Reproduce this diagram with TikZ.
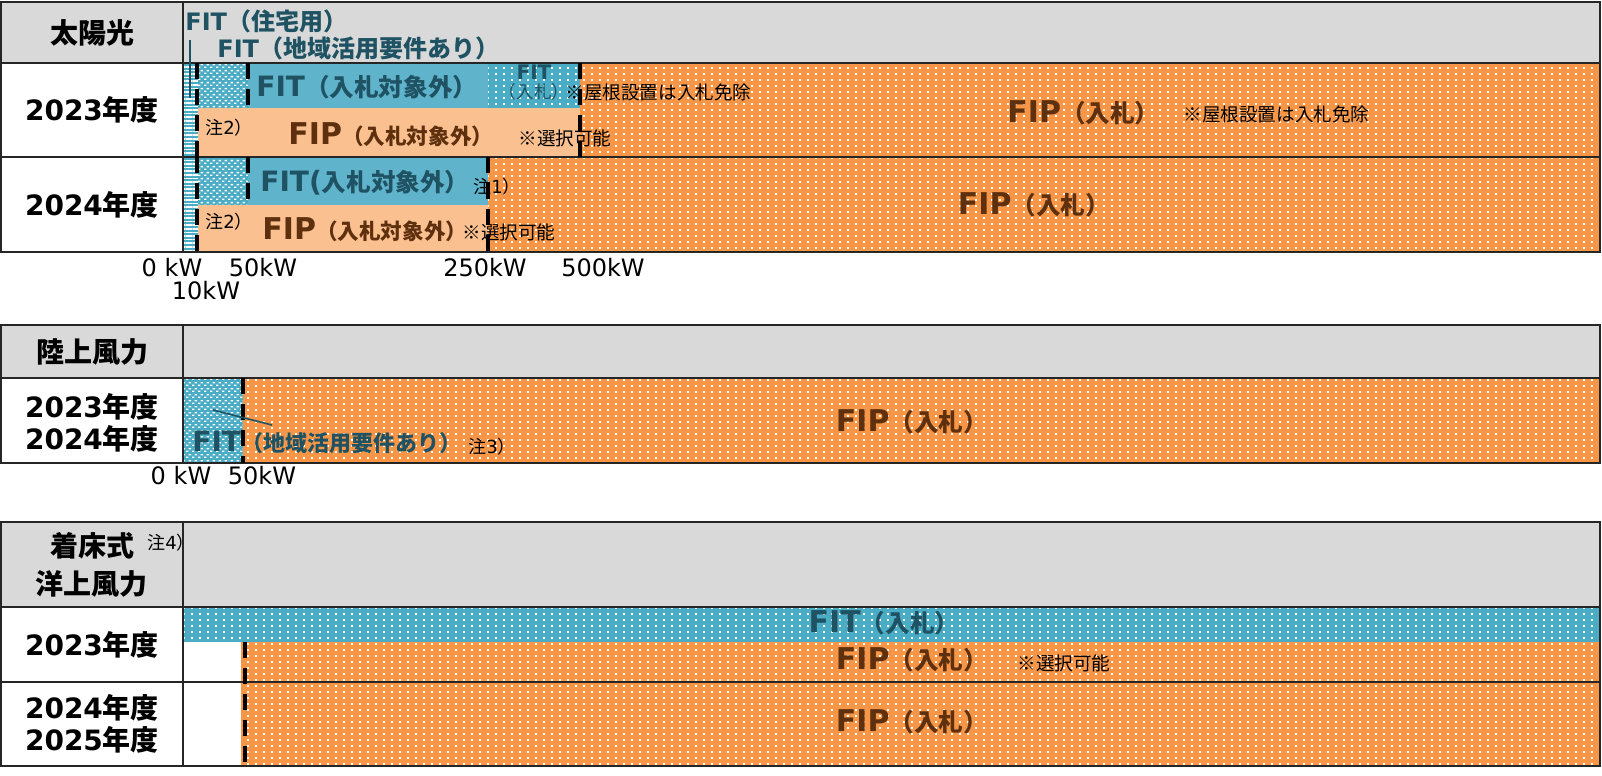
\documentclass[tikz,border=0pt]{standalone}
\usepackage{fontspec}
\setmainfont{DejaVu Sans}
\newfontfamily\jp{Noto Sans CJK JP}
\usetikzlibrary{patterns,patterns.meta}
\definecolor{hdr}{HTML}{D9D9D9}
\definecolor{bsolid}{HTML}{5FB3CB}
\definecolor{bdot}{HTML}{4BACC6}
\definecolor{orgC}{HTML}{F79646}
\definecolor{lorg}{HTML}{FAC090}
\definecolor{fitc}{HTML}{1F5263}
\definecolor{brn}{HTML}{5F300E}
\pgfdeclarepatternformonly{sqdots}{\pgfqpoint{-0.6pt}{-0.6pt}}{\pgfqpoint{0.6pt}{0.6pt}}{\pgfqpoint{4pt}{3pt}}%
{\pgfpathrectangle{\pgfqpoint{-0.5pt}{-0.5pt}}{\pgfqpoint{1pt}{1pt}}\pgfusepath{fill}}
\pgfdeclarepatternformonly{chkdots}{\pgfqpoint{0pt}{0pt}}{\pgfqpoint{3pt}{3pt}}{\pgfqpoint{3pt}{3pt}}%
{\pgfpathrectangle{\pgfqpoint{0pt}{0pt}}{\pgfqpoint{1.4pt}{0.8pt}}\pgfpathrectangle{\pgfqpoint{1.5pt}{1.5pt}}{\pgfqpoint{1.4pt}{0.8pt}}\pgfusepath{fill}}
\begin{document}
\begin{tikzpicture}[x=0.5pt,y=-0.5pt,
  grid/.style={line width=1.2pt,draw=black!85},
  dl/.style={line width=2pt,dash pattern=on 8pt off 5pt},
  dorg/.style={fill=orgC,postaction={pattern=sqdots,pattern color=white}},
  dblue/.style={fill=bdot,postaction={pattern=sqdots,pattern color=white}},
  lblue/.style={fill=bdot,postaction={pattern=chkdots,pattern color=white}},
  sblue/.style={fill=bdot,postaction={pattern={Lines[angle=0,distance=1.8pt,line width=0.8pt]},pattern color=white}},
  yl/.style={font=\bfseries\fontsize{14}{16}\selectfont,align=center,inner sep=0pt},
  fitl/.style={text=fitc,font=\bfseries\fontsize{14}{16}\selectfont,inner sep=0pt},
  fipl/.style={text=brn,font=\bfseries\fontsize{15}{16}\selectfont,inner sep=0pt},
  sm/.style={font=\fontsize{9.3}{11}\selectfont,inner sep=0pt},
  nt/.style={font=\fontsize{9}{10}\selectfont,inner sep=0pt},
  kw/.style={font=\fontsize{12}{14}\selectfont,inner sep=0pt},
  lead/.style={line width=0.6pt,draw=fitc}
]
\newcommand\pj[1]{{\jp\fontsize{12.3}{14}\selectfont #1}}
\useasboundingbox (0,0) rectangle (1602,776);

% ---------------- Table 1 : 太陽光 ----------------
\fill[hdr] (1,2) rectangle (1600,63);
\path[sblue] (183,63) rectangle (198,252);
\path[lblue] (198,63) rectangle (248,108);
\fill[bsolid] (248,63) rectangle (488,108);
\path[dblue] (488,63) rectangle (580,108);
\fill[lorg] (198,108) rectangle (580,157);
\path[dorg] (580,63) rectangle (1600,157);
\path[lblue] (198,157) rectangle (248,205);
\fill[bsolid] (248,157) rectangle (488,205);
\fill[lorg] (198,205) rectangle (488,252);
\path[dorg] (488,157) rectangle (1600,252);
\draw[grid] (1,2) rectangle (1600,252);
\draw[grid] (1,63) -- (1600,63) (1,157) -- (1600,157) (183,2) -- (183,252);
\draw[dl] (197,63) -- (197,157);
\draw[dl] (248,63) -- (248,108);
\draw[dl] (580,63) -- (580,157);
\draw[dl] (197,157) -- (197,252);
\draw[dl] (248,157) -- (248,205);
\draw[dl] (488,157) -- (488,252);

\node[yl] (t1h) at (92,33) {{\jp 太陽光}};
\node[yl] (t1a) at (92,110) {2023{\jp 年度}};
\node[yl] (t1b) at (92,205) {2024{\jp 年度}};

\node[fitl,anchor=west,font=\bfseries\fontsize{12}{13}\selectfont] (fitj) at (185,21) {FIT{\jp （住宅用）}};
\node[fitl,anchor=west,font=\bfseries\fontsize{12}{13}\selectfont] (fitc1) at (217,48) {FIT{\jp （地域活用要件あり）}};
\coordinate (jtop) at (190,40);
\coordinate (jbot) at (190,98);
\draw[lead] (jtop) -- (jbot);

\node[fitl,anchor=west] (fit1) at (256,87) {FIT\pj{（入札対象外）}};
\node[fitl,align=center,font=\fontsize{10}{9.5}\selectfont] (fitb1) at (534,83) {\textbf{FIT}\\{\jp\fontsize{8.8}{9}\selectfont （入札）}};
\node[sm,anchor=west] (roof1) at (565,92) {{\jp ※屋根設置は入札免除}};
\node[nt,anchor=west] (n2a) at (205,128) {{\jp 注}2{\jp ）}};
\node[fipl,anchor=west] (fip1) at (288,135) {FIP{\jp\fontsize{10.8}{12}\selectfont （入札対象外）}};
\node[sm,anchor=west] (sel1) at (518,138) {{\jp ※選択可能}};
\node[fipl,anchor=west] (fipb1) at (1007,113) {FIP\pj{（入札）}};
\node[sm,anchor=west] (roof2) at (1183,114) {{\jp ※屋根設置は入札免除}};

\node[fitl,anchor=west] (fit2) at (260,183) {FIT(\pj{入札対象外）}};
\node[nt,anchor=west] (n1) at (473,187) {{\jp 注}1{\jp ）}};
\node[nt,anchor=west] (n2b) at (205,222) {{\jp 注}2{\jp ）}};
\node[fipl,anchor=west] (fip2) at (262,230) {FIP{\jp\fontsize{10.8}{12}\selectfont （入札対象外）}};
\node[sm,anchor=west] (sel2) at (462,232) {{\jp ※選択可能}};
\node[fipl] (fipb2) at (1034,205) {FIP\pj{（入札）}};

\node[kw] (k0) at (172,268) {0 kW};
\node[kw] (k10) at (206,291) {10kW};
\node[kw] (k50) at (263,268) {50kW};
\node[kw] (k250) at (485,268) {250kW};
\node[kw] (k500) at (603,268) {500kW};

% ---------------- Table 2 : 陸上風力 ----------------
\fill[hdr] (1,325) rectangle (1600,378);
\path[lblue] (183,378) rectangle (243,463);
\path[dorg] (243,378) rectangle (1600,463);
\draw[grid] (1,325) rectangle (1600,463);
\draw[grid] (1,378) -- (1600,378) (183,325) -- (183,463);
\draw[dl] (243,378) -- (243,463);

\node[yl] (t2h) at (92,352) {{\jp 陸上風力}};
\node[yl] (t2a) at (92,423) {2023{\jp 年度}\\2024{\jp 年度}};
\node[fitl,anchor=west] (fitc2) at (192,442) {FIT{\jp\fontsize{11}{13}\selectfont （地域活用要件あり）}};
\coordinate (l2a) at (213,410);
\coordinate (l2b) at (272,425);
\draw[lead,line width=0.8pt] (l2a) -- (l2b);
\node[nt,anchor=west] (n3) at (468,447) {{\jp 注}3{\jp ）}};
\node[fipl] (fipb3) at (912,422) {FIP\pj{（入札）}};
\node[kw] (k0b) at (181,476) {0 kW};
\node[kw] (k50b) at (262,476) {50kW};

% ---------------- Table 3 : 着床式洋上風力 ----------------
\fill[hdr] (1,522) rectangle (1600,607);
\path[dblue] (183,607) rectangle (1600,642);
\path[dorg] (241,642) rectangle (1600,766);
\draw[grid] (1,522) rectangle (1600,766);
\draw[grid] (1,607) -- (1600,607) (1,682) -- (1600,682) (183,522) -- (183,766);
\draw[dl] (245,642) -- (245,766);

\node[yl] (t3h1) at (92,546) {{\jp 着床式}};
\node[yl] (t3h2) at (91,584) {{\jp 洋上風力}};
\node[nt,anchor=west] (n4) at (147,543) {{\jp 注}4{\jp ）}};
\node[yl] (t3a) at (92,645) {2023{\jp 年度}};
\node[yl] (t3b) at (92,724) {2024{\jp 年度}\\2025{\jp 年度}};
\node[fitl,font=\bfseries\fontsize{15}{16}\selectfont] (fitb3) at (884,623) {FIT\pj{（入札）}};
\node[fipl] (fipb4) at (912,660) {FIP\pj{（入札）}};
\node[sm,anchor=west] (sel3) at (1017,663) {{\jp ※選択可能}};
\node[fipl] (fipb5) at (912,722) {FIP\pj{（入札）}};
\end{tikzpicture}
\end{document}
